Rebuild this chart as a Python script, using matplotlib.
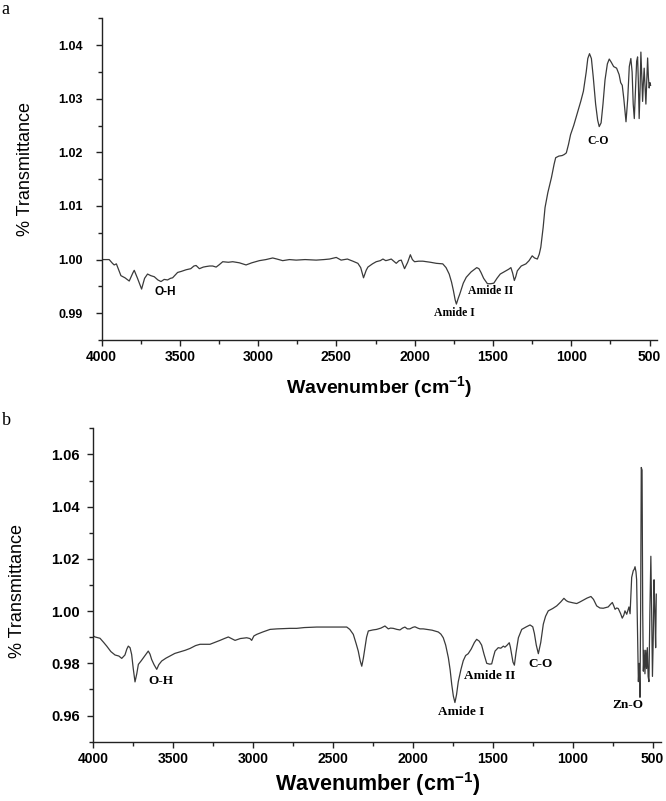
import matplotlib
matplotlib.use("Agg")
import matplotlib.pyplot as plt
from matplotlib.ticker import MultipleLocator, FormatStrFormatter

# ---------------- data ----------------
wn_a = [4000, 3990, 3951, 3930, 3919, 3905, 3876, 3850, 3823, 3800, 3791, 3770, 3744, 3725, 3706,
        3685, 3663, 3640, 3620, 3600, 3578, 3560, 3546, 3514, 3490, 3460, 3430, 3410, 3396, 3375,
        3350, 3332, 3310, 3290, 3268, 3250, 3226, 3190, 3162, 3120, 3077, 3040, 2992, 2950, 2907,
        2880, 2843, 2800, 2757, 2700, 2629, 2580, 2544, 2501, 2470, 2430, 2395, 2363, 2345, 2327,
        2310, 2299, 2270, 2246, 2220, 2203, 2185, 2171, 2150, 2130, 2118, 2100, 2086, 2065, 2045,
        2028, 2015, 2001, 1975, 1948, 1900, 1862, 1821, 1800, 1780, 1765, 1753, 1742, 1734, 1722,
        1712, 1690, 1671, 1640, 1604, 1590, 1577, 1560, 1536, 1515, 1495, 1475, 1454, 1430, 1400,
        1386, 1375, 1364, 1355, 1345, 1320, 1290, 1270, 1250, 1235, 1217, 1205, 1195, 1180, 1168,
        1150, 1127, 1110, 1100, 1080, 1059, 1045, 1032, 1018, 1005, 985, 964, 940, 923, 905,
        895, 884, 872, 860, 845, 832, 822, 810, 798, 785, 770, 758, 745, 730, 711,
        695, 685, 675, 665, 651, 640, 630, 620, 612, 605, 598, 590, 583, 577, 572,
        567, 561, 556, 550, 545, 540, 535, 529, 524, 518, 513, 508, 503, 498, 494]
tr_a = [1.0000, 1.0000, 1.0000, 0.9993, 0.9990, 0.9992, 0.9970, 0.9966, 0.9960, 0.9975, 0.9980, 0.9965, 0.9945, 0.9965, 0.9973,
        0.9970, 0.9968, 0.9962, 0.9959, 0.9963, 0.9962, 0.9965, 0.9966, 0.9976, 0.9978, 0.9981, 0.9983, 0.9988, 0.9989, 0.9983,
        0.9986, 0.9987, 0.9988, 0.9988, 0.9986, 0.9990, 0.9996, 0.9995, 0.9996, 0.9994, 0.9990, 0.9994, 0.9998, 1.0000, 1.0003,
        1.0001, 0.9998, 1.0000, 0.9999, 1.0000, 0.9999, 1.0000, 1.0001, 1.0004, 0.9999, 1.0001, 0.9997, 0.9993, 0.9985, 0.9966,
        0.9980, 0.9986, 0.9992, 0.9996, 0.9998, 1.0001, 0.9998, 0.9999, 1.0001, 0.9996, 0.9993, 0.9998, 0.9999, 0.9983, 0.9995,
        1.0009, 1.0000, 0.9996, 0.9997, 0.9997, 0.9995, 0.9993, 0.9992, 0.9985, 0.9973, 0.9958, 0.9942, 0.9925, 0.9917, 0.9928,
        0.9936, 0.9956, 0.9967, 0.9977, 0.9985, 0.9983, 0.9976, 0.9965, 0.9955, 0.9955, 0.9956, 0.9965, 0.9973, 0.9977, 0.9982,
        0.9985, 0.9975, 0.9961, 0.9968, 0.9979, 0.9988, 0.9992, 0.9998, 1.0007, 1.0003, 1.0001, 1.0010, 1.0023, 1.0060, 1.0097,
        1.0125, 1.0153, 1.0178, 1.0190, 1.0193, 1.0194, 1.0196, 1.0199, 1.0215, 1.0233, 1.0250, 1.0271, 1.0295, 1.0314, 1.0350,
        1.0375, 1.0384, 1.0375, 1.0340, 1.0290, 1.0260, 1.0248, 1.0255, 1.0290, 1.0335, 1.0365, 1.0374, 1.0368, 1.0360, 1.0357,
        1.0345, 1.0330, 1.0325, 1.0300, 1.0257, 1.0300, 1.0360, 1.0375, 1.0350, 1.0290, 1.0263, 1.0320, 1.0370, 1.0378, 1.0330,
        1.0263, 1.0320, 1.0387, 1.0340, 1.0295, 1.0330, 1.0357, 1.0320, 1.0290, 1.0340, 1.0376, 1.0340, 1.0320, 1.0330, 1.0325]

wn_b = [4000, 3989, 3958, 3935, 3916, 3890, 3864, 3840, 3822, 3802, 3790, 3781, 3770, 3760, 3750,
        3739, 3728, 3718, 3700, 3687, 3670, 3656, 3645, 3635, 3620, 3603, 3590, 3572, 3545, 3520,
        3490, 3457, 3425, 3395, 3360, 3332, 3300, 3270, 3240, 3207, 3180, 3155, 3135, 3113, 3080,
        3040, 3020, 3009, 2995, 2977, 2940, 2894, 2850, 2811, 2770, 2727, 2680, 2602, 2500, 2414,
        2395, 2373, 2355, 2342, 2330, 2320, 2310, 2300, 2290, 2279, 2250, 2227, 2200, 2175, 2165,
        2154, 2140, 2123, 2100, 2081, 2065, 2050, 2035, 2019, 2000, 1987, 1970, 1956, 1935, 1914,
        1880, 1841, 1825, 1810, 1795, 1778, 1767, 1757, 1747, 1737, 1727, 1716, 1700, 1685, 1670,
        1654, 1635, 1615, 1601, 1585, 1570, 1555, 1538, 1520, 1507, 1496, 1486, 1466, 1450, 1434,
        1424, 1410, 1397, 1390, 1382, 1374, 1365, 1355, 1340, 1319, 1290, 1267, 1250, 1240, 1228,
        1215, 1200, 1184, 1170, 1153, 1125, 1100, 1075, 1055, 1040, 1028, 1000, 975, 955, 934,
        910, 886, 870, 850, 830, 809, 790, 778, 765, 752, 743, 735, 725, 715, 700,
        690, 680, 673, 662, 648, 641, 631, 621, 615, 610, 604, 600, 594, 589, 584,
        579, 575, 571, 566, 562, 558, 553, 548, 543, 538, 533, 528, 523, 517, 511,
        506, 501, 496, 491, 486, 481, 477]
tr_b = [0.9905, 0.9901, 0.9896, 0.9880, 0.9866, 0.9845, 0.9832, 0.9828, 0.9819, 0.9832, 0.9855, 0.9866, 0.9860, 0.9834, 0.9780,
        0.9729, 0.9760, 0.9796, 0.9810, 0.9821, 0.9835, 0.9847, 0.9835, 0.9815, 0.9795, 0.9777, 0.9795, 0.9809, 0.9820, 0.9828,
        0.9838, 0.9844, 0.9850, 0.9857, 0.9868, 0.9873, 0.9873, 0.9873, 0.9880, 0.9888, 0.9895, 0.9901, 0.9895, 0.9888, 0.9895,
        0.9898, 0.9895, 0.9888, 0.9905, 0.9911, 0.9920, 0.9930, 0.9932, 0.9933, 0.9934, 0.9934, 0.9937, 0.9939, 0.9939, 0.9939,
        0.9930, 0.9911, 0.9875, 0.9847, 0.9810, 0.9789, 0.9820, 0.9860, 0.9900, 0.9924, 0.9928, 0.9930, 0.9935, 0.9943, 0.9938,
        0.9932, 0.9935, 0.9934, 0.9930, 0.9928, 0.9935, 0.9939, 0.9932, 0.9932, 0.9938, 0.9940, 0.9935, 0.9932, 0.9932, 0.9930,
        0.9927, 0.9920, 0.9912, 0.9898, 0.9870, 0.9821, 0.9775, 0.9719, 0.9675, 0.9650, 0.9680, 0.9730, 0.9775, 0.9810, 0.9830,
        0.9837, 0.9855, 0.9880, 0.9892, 0.9885, 0.9870, 0.9835, 0.9800, 0.9797, 0.9798, 0.9825, 0.9847, 0.9860, 0.9858, 0.9866,
        0.9862, 0.9870, 0.9879, 0.9862, 0.9834, 0.9805, 0.9793, 0.9840, 0.9898, 0.9930, 0.9940, 0.9947, 0.9940, 0.9915, 0.9870,
        0.9837, 0.9880, 0.9950, 0.9980, 1.0001, 1.0010, 1.0020, 1.0035, 1.0049, 1.0040, 1.0036, 1.0032, 1.0029, 1.0035, 1.0042,
        1.0050, 1.0056, 1.0045, 1.0020, 1.0012, 1.0011, 1.0014, 1.0016, 1.0025, 1.0033, 1.0020, 1.0007, 1.0012, 1.0010, 0.9990,
        0.9973, 0.9985, 1.0001, 0.9988, 1.0016, 0.9990, 1.0129, 1.0155, 1.0160, 1.0170, 1.0150, 1.0120, 0.9900, 0.9730, 0.9800,
        0.9670, 1.0000, 1.0550, 1.0540, 1.0000, 0.9770, 0.9850, 0.9760, 0.9850, 0.9780, 0.9860, 0.9750, 0.9730, 1.0000, 1.0210,
        1.0000, 0.9750, 0.9900, 1.0120, 1.0000, 0.9860, 1.0065]

ann_a_text = ["O-H", "Amide I", "Amide II", "C-O"]
ann_a_x = [3592, 1745, 1516, 830]
ann_a_y = [0.9940, 0.9900, 0.9941, 1.0221]

ann_b_text = ["O-H", "Amide I", "Amide II", "C-O", "Zn-O"]
ann_b_x = [3575, 1700, 1520, 1200, 655]
ann_b_y = [0.9732, 0.9612, 0.9750, 0.9798, 0.9640]

yticks_a = [0.99, 1.00, 1.01, 1.02, 1.03, 1.04]
yticks_b = [0.96, 0.98, 1.00, 1.02, 1.04, 1.06]
xticks = [4000, 3500, 3000, 2500, 2000, 1500, 1000, 500]

# ---------------- styling ----------------
plt.rcParams["font.family"] = ["Liberation Sans", "DejaVu Sans"]
plt.rcParams["mathtext.fontset"] = "custom"
plt.rcParams["mathtext.rm"] = "Liberation Sans:bold"
plt.rcParams["mathtext.bf"] = "Liberation Sans:bold"
plt.rcParams["mathtext.default"] = "bf"

fig = plt.figure(figsize=(6.66, 8.01), dpi=100)

W, H = 666.0, 801.0
ax1 = fig.add_axes([101.5 / W, 1 - 340 / H, (656.7 - 101.5) / W, (340 - 18.3) / H])
ax2 = fig.add_axes([93.3 / W, 1 - 741.7 / H, (661.4 - 93.3) / W, (741.7 - 428.3) / H])

line_color = "#3a3a3a"

def style(ax, ylim, yticks, ymin_step, xlim, ytick_size, ypad, xlabel_size):
    ax.set_xlim(*xlim)
    ax.set_ylim(*ylim)
    ax.set_xticks(xticks)
    ax.set_yticks(yticks)
    ax.xaxis.set_minor_locator(MultipleLocator(250))
    ax.yaxis.set_minor_locator(MultipleLocator(ymin_step))
    ax.yaxis.set_major_formatter(FormatStrFormatter("%.2f"))
    for s in ["top", "right"]:
        ax.spines[s].set_visible(False)
    for s in ["left", "bottom"]:
        ax.spines[s].set_linewidth(1.0)
        ax.spines[s].set_color("#222222")
    ax.tick_params(which="major", direction="out", length=4.5, width=1.0, color="#222222")
    ax.tick_params(which="minor", direction="out", length=3.0, width=1.0, color="#222222")
    ax.tick_params(axis="x", which="major", labelsize=10, pad=3)
    ax.tick_params(axis="y", which="major", labelsize=ytick_size, pad=ypad)
    for lab in ax.get_xticklabels() + ax.get_yticklabels():
        lab.set_fontweight("bold")
    ax.set_xlabel("Wavenumber (cm$^{-1}$)", fontsize=xlabel_size, fontweight="bold")
    ax.set_ylabel("% Transmittance", fontsize=13)

ax1.plot(wn_a, tr_a, color=line_color, lw=0.9)
ax2.plot(wn_b, tr_b, color=line_color, lw=0.9)

style(ax1, (0.985, 1.045), yticks_a, 0.005, (4000, 455), 9, 9, 14)
style(ax2, (0.95, 1.07), yticks_b, 0.01, (4000, 445), 10.5, 5, 15.5)

ax1.yaxis.set_label_coords(-0.122, 0.53)
ax1.xaxis.set_label_coords(0.5, -0.105)
ax2.yaxis.set_label_coords(-0.118, 0.48)
ax2.xaxis.set_label_coords(0.5, -0.092)

for t, x, y in zip(ann_a_text, ann_a_x, ann_a_y):
    fam = ["Liberation Sans"] if t == "O-H" else ["Liberation Serif"]
    ax1.text(x, y, t, ha="center", va="center", fontsize=8.5, fontweight="bold", family=fam)
for t, x, y in zip(ann_b_text, ann_b_x, ann_b_y):
    ax2.text(x, y, t, ha="center", va="center", fontsize=9.5, fontweight="bold",
             family=["Liberation Serif"])

fig.text(5 / W, 1 - 9 / H, "a", fontsize=13, family=["Liberation Serif"], ha="center", va="center")
fig.text(6 / W, 1 - 421 / H, "b", fontsize=13, family=["Liberation Serif"], ha="center", va="center")

fig.savefig("out.png", dpi=100)
